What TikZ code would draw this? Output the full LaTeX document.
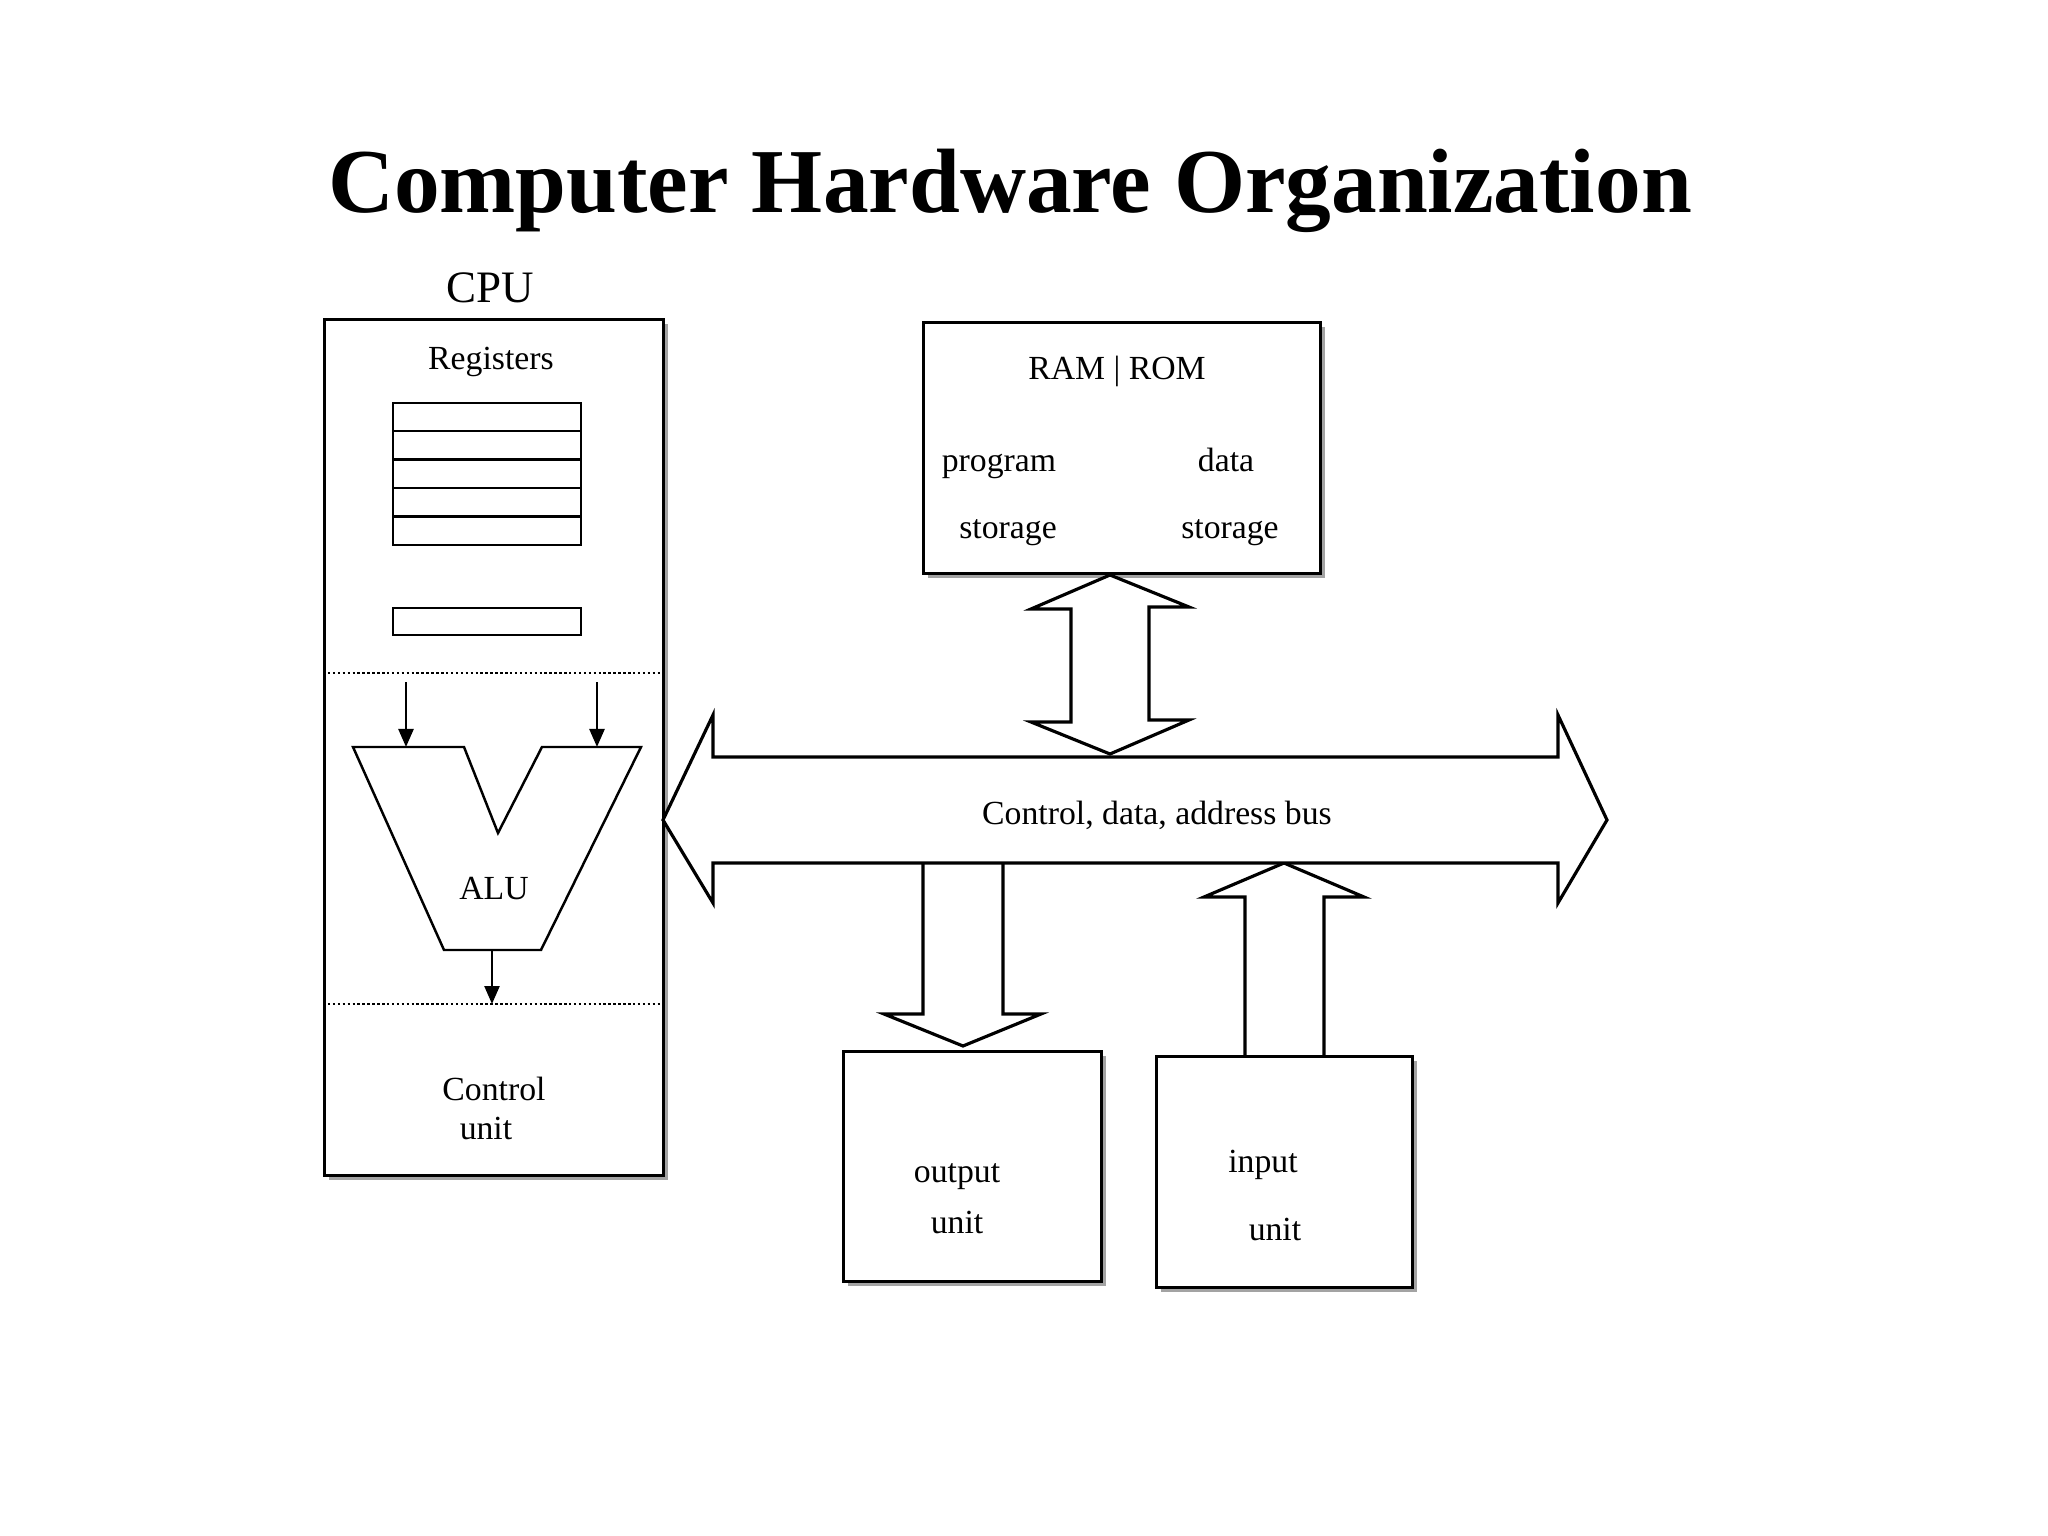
\documentclass[tikz,border=0pt]{standalone}
\usepackage{fontspec}
\setmainfont{Liberation Serif}
\usetikzlibrary{positioning,calc,shadows,arrows.meta}

\tikzset{
  unitbox/.style={rectangle,draw=black,line width=.9pt,fill=white,inner sep=0pt,above right,
    drop shadow={shadow xshift=.045cm,shadow yshift=-.045cm,fill=black!45,opacity=.8}},
  regbox/.style={rectangle,draw=black,line width=.7pt,minimum width=1.88cm,inner sep=0pt,above right},
  txt/.style={anchor=base,inner sep=0pt,font=\fontsize{9.6}{11.5}\selectfont},
  blockarrow/.style={draw=black,fill=white,line width=.9pt,line join=miter},
  sep/.style={line width=.7pt,dash pattern=on .7pt off .7pt},
  flow/.style={line width=.7pt,-{Triangle[length=1.8mm,width=1.5mm]}}
}

\begin{document}
\begin{tikzpicture}
    \useasboundingbox[fill=white] (0,0) rectangle (20.48,-15.36);

    % title
    \node[anchor=base,font=\bfseries\fontsize{26}{30}\selectfont] (title) at (10.10,-2.13) {Computer Hardware Organization};

    % cpu
    \node[unitbox,minimum width=3.39cm,minimum height=8.56cm] (cpu) at (3.23,-11.77) {};
    \node[anchor=base,inner sep=0pt,font=\fontsize{12.8}{14}\selectfont] (cpulabel) at (4.90,-3.03) {CPU};
    \node[txt] (reglabel) at (4.91,-3.70) {Registers};

    % register file
    \foreach \i in {0,...,4}
      \node[regbox,minimum height=.284cm] (reg\i) at (3.92,{-5.46+\i*.284}) {};
    \node[regbox,minimum height=.27cm] (acc) at (3.92,-6.36) {};

    % sections of the cpu
    \coordinate (sepa) at (0,-6.73);
    \coordinate (sepb) at (0,-10.04);
    \draw[sep] (cpu.west |- sepa) -- (cpu.east |- sepa);
    \draw[sep] (cpu.west |- sepb) -- (cpu.east |- sepb);

    % alu
    \coordinate (alutl) at (3.53,-7.47);
    \coordinate (alutr) at (6.41,-7.47);
    \coordinate (aluna) at (4.64,-7.47);
    \coordinate (alunb) at (5.42,-7.47);
    \coordinate (alunotch) at (4.98,-8.33);
    \coordinate (alubl) at (4.44,-9.50);
    \coordinate (alubr) at (5.41,-9.50);
    \draw[line width=.7pt,line join=miter] (alutl) -- (aluna) -- (alunotch) -- (alunb) -- (alutr) -- (alubr) -- (alubl) -- cycle;
    \node[txt] (alu) at (4.94,-8.99) {ALU};

    \coordinate (opa) at (4.06,-6.82);
    \coordinate (opb) at (5.97,-6.82);
    \coordinate (aluout) at (4.92,-9.50);
    \draw[flow] (opa) -- (opa |- alutl);
    \draw[flow] (opb) -- (opb |- alutr);
    \draw[flow] (aluout) -- (aluout |- sepb);

    \node[txt] (ctrltext) at (4.94,-11.00) {Control};
    \node[txt] (ctrlunit) at (4.86,-11.40) {unit};

    % memory
    \node[unitbox,minimum width=3.97cm,minimum height=2.51cm] (ram) at (9.22,-5.75) {};
    \node[txt] (ramlabel) at (11.17,-3.80) {RAM | ROM};
    \node[txt] (prog) at (9.99,-4.72) {program};
    \node[txt] (data) at (12.26,-4.72) {data};
    \node[txt] (progst) at (10.08,-5.39) {storage};
    \node[txt] (datast) at (12.30,-5.39) {storage};

    % output and input units
    \node[unitbox,minimum width=2.58cm,minimum height=2.30cm] (out) at (8.42,-12.83) {};
    \node[txt] (outtext) at (9.57,-11.82) {output};
    \node[txt] (outunit) at (9.57,-12.33) {unit};
    \node[unitbox,minimum width=2.56cm,minimum height=2.31cm] (in) at (11.55,-12.89) {};
    \node[txt] (intext) at (12.63,-11.72) {input};
    \node[txt] (inunit) at (12.75,-12.40) {unit};

    % bus -> output
    \coordinate (outtip) at (9.63,-10.46);
    \draw[blockarrow] (9.23,-8.63) -- (9.23,-10.14) -- (8.84,-10.14) -- (outtip) -- (10.41,-10.14) -- (10.03,-10.14) -- (10.03,-8.63);

    % input -> bus
    \coordinate (inl) at ($(in.north west)+(.90,0)$);
    \coordinate (inr) at ($(in.north west)+(1.69,0)$);
    \coordinate (intip) at (12.84,-8.63);
    \draw[blockarrow] (inl) -- (12.45,-8.97) -- (12.04,-8.97) -- (intip) -- (13.64,-8.97) -- (13.24,-8.97) -- (inr);

    % system bus
    \coordinate (busl) at (6.63,-8.20);
    \coordinate (busr) at (16.07,-8.20);
    \draw[blockarrow] (busl) -- (7.13,-7.15) -- (7.13,-7.57) -- (15.58,-7.57) -- (15.58,-7.15) -- (busr)
      -- (15.58,-9.03) -- (15.58,-8.63) -- (7.13,-8.63) -- (7.13,-9.03) -- cycle;
    \node[txt] (buslabel) at (11.57,-8.24) {Control, data, address bus};

    % memory <-> bus
    \coordinate (memtop) at ($(ram.south west)+(1.88,0)$);
    \coordinate (membot) at (11.10,-7.54);
    \draw[blockarrow] (memtop) -- ++(.79,-.32) -- ++(-.40,0) -- ++(0,-1.13) -- ++(.40,0) -- (membot)
      -- ++(-.79,.32) -- ++(.40,0) -- ++(0,1.13) -- ++(-.40,0) -- cycle;
\end{tikzpicture}
\end{document}
